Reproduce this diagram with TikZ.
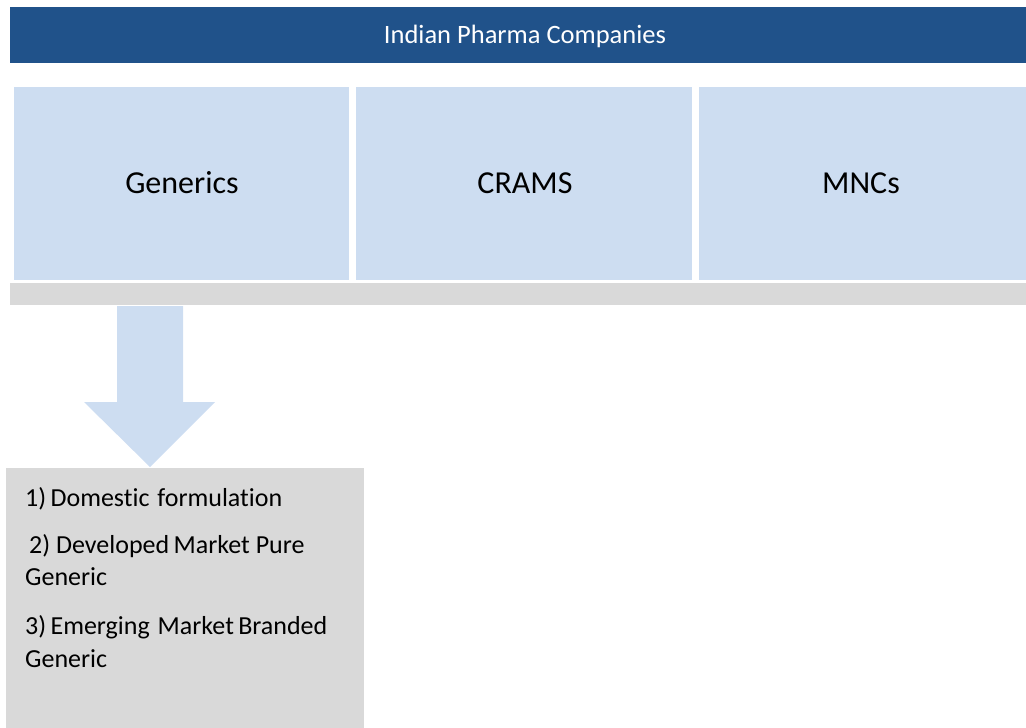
\documentclass[tikz,border=0pt]{standalone}
\usepackage{fontspec}
\setmainfont{Carlito}[Ligatures=NoCommon]
\definecolor{bandblue}{RGB}{32,82,138}
\definecolor{paleblue}{RGB}{205,221,241}
\definecolor{lightgray}{RGB}{217,217,217}
\begin{document}
\begin{tikzpicture}[x=1pt,y=-1pt,
  panel/.style={anchor=north west,inner sep=0pt,outer sep=0pt,draw=none},
  caption/.style={anchor=base,inner sep=0pt,font=\fontsize{32}{38}\selectfont},
  item/.style={anchor=base west,inner sep=0pt,font=\fontsize{26}{31}\selectfont}]
  \useasboundingbox (0,0) rectangle (1026,728);
  % header band
  \node[panel,fill=bandblue,minimum width=1016pt,minimum height=56pt] (band) at (10,7) {};
  \node[anchor=base,inner sep=0pt,text=white,font=\fontsize{26.5}{31}\selectfont] (bandtext) at (525,43) {Indian Pharma Companies};
  % three segment panels
  \node[panel,fill=paleblue,minimum width=335pt,minimum height=193pt] (gen) at (14,87) {};
  \node[panel,fill=paleblue,minimum width=336pt,minimum height=193pt] (crams) at (356,87) {};
  \node[panel,fill=paleblue,minimum width=327pt,minimum height=193pt] (mnc) at (699,87) {};
  \node[caption] (gentext) at (182,193) {Generics};
  \node[caption] (cramstext) at (525,193) {CRAMS};
  \node[caption] (mnctext) at (861,193) {MNCs};
  % grey strip under the panels
  \node[panel,fill=lightgray,minimum width=1016pt,minimum height=22pt] (strip) at (10,283) {};
  % block arrow down to the detail box
  \fill[paleblue] (117,306) -- (183,306) -- (183,402) -- (215,402) -- (150,467)
    -- (84,402) -- (117,402) -- cycle;
  % detail box for generics
  \node[panel,fill=lightgray,minimum width=358pt,minimum height=260pt] (detail) at (6,468) {};
  \node[item] (l1) at (25,506) {1)\,Domestic\hspace{2pt} formulation};
  \node[item] (l2) at (29,553) {2) Developed\,Market Pure};
  \node[item] (l3) at (25,585) {Generic};
  \node[item] (l4) at (25,634) {3)\,Emerging\hspace{2pt} Market\,Branded};
  \node[item] (l5) at (25,667) {Generic};
\end{tikzpicture}
\end{document}
